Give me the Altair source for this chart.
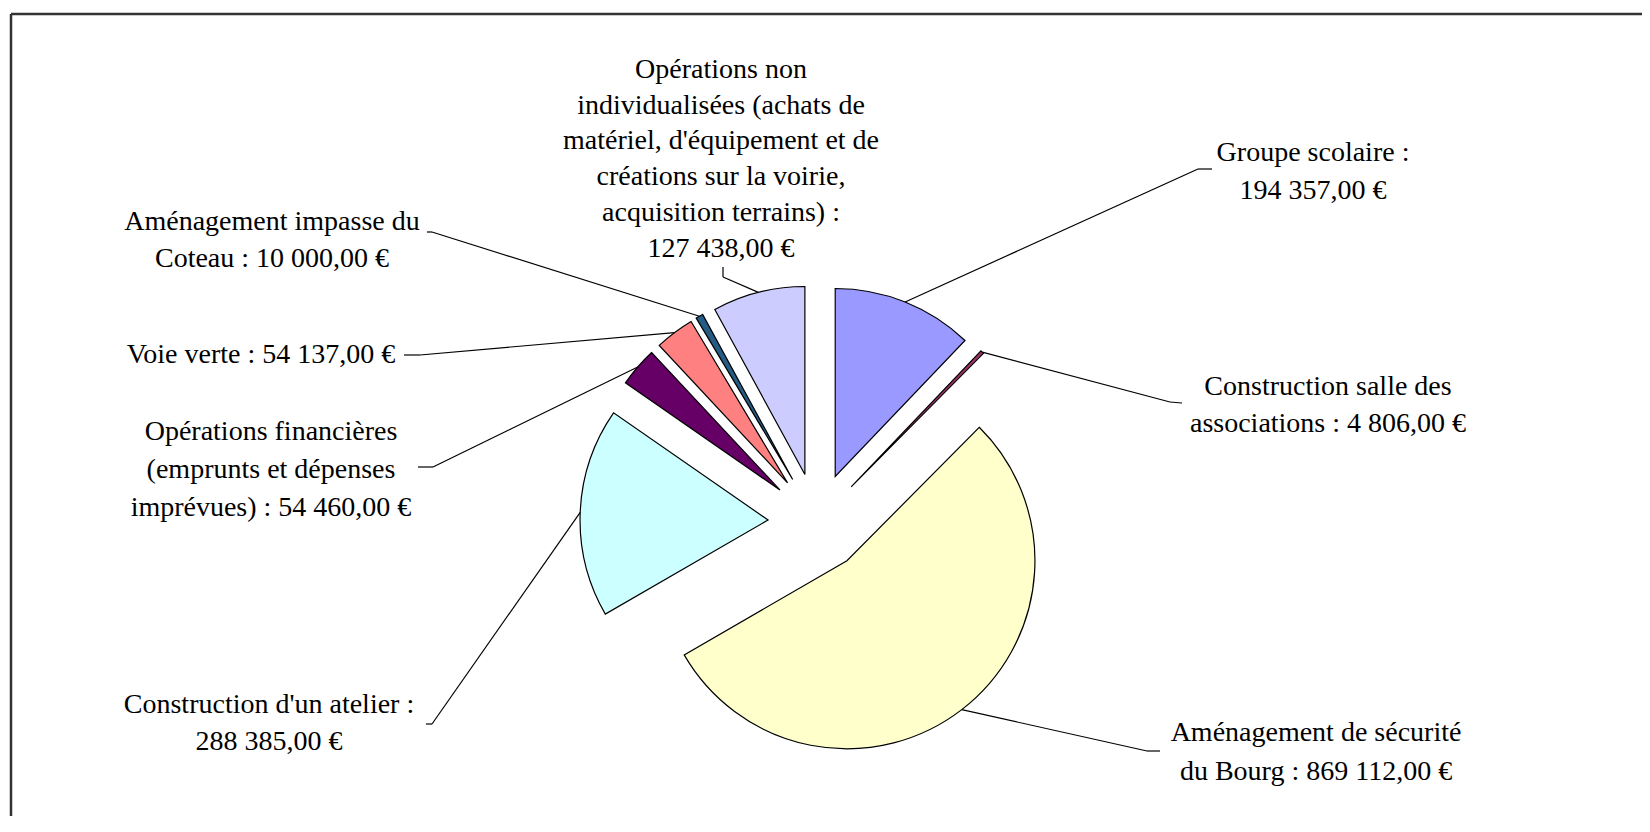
import altair as alt
import pandas as pd

# ---------------- data ----------------
categories = [
    "Groupe scolaire",
    "Construction salle des associations",
    "Aménagement de sécurité du Bourg",
    "Construction d'un atelier",
    "Opérations financières",
    "Voie verte",
    "Aménagement impasse du Coteau",
    "Opérations non individualisées",
]
values = [194357, 4806, 869112, 288385, 54460, 54137, 10000, 127438]
colors = ["#9999FF", "#993366", "#FFFFCC", "#CCFFFF", "#660066", "#FF8080", "#245C85", "#CCCCFF"]
label_lines = [
    ["Groupe scolaire :", "{v}"],
    ["Construction salle des", "associations : {v}"],
    ["Aménagement de sécurité", "du Bourg : {v}"],
    ["Construction d'un atelier :", "{v}"],
    ["Opérations financières", "(emprunts et dépenses", "imprévues) : {v}"],
    ["Voie verte : {v}"],
    ["Aménagement impasse du", "Coteau : {v}"],
    ["Opérations non", "individualisées (achats de", "matériel, d'équipement et de",
     "créations sur la voirie,", "acquisition terrains) :", "{v}"],
]


def fmt(v):
    return f"{v:,}".replace(",", " ") + ",00 €"


# ---------------- layout (page pixel coordinates) ----------------
PAGE = 8
W, H = 1634, 808
CX, CY, EXPLODE, R = 817, 522, 49, 188
FONT = "Liberation Serif"
FS = 28
label_pos = [(1313, 153, 38), (1328, 387, 37), (1316, 733, 38.5), (269, 705, 37),
             (271, 432, 38), (261, 355, 0), (272, 222, 36.5), (721, 70, 35.7)]
leader_elbow = [(1198, 169), (1170, 402), (1147, 751), (432, 724),
                (433, 467), (420, 355), (432, 232), (723, 277)]
leader_end = [(1212, 169), (1182, 403), (1160, 751), (426, 724),
              (418, 467), (404, 355), (427, 232), (723, 267)]

df = pd.DataFrame({
    "category": categories,
    "value": values,
    "order": list(range(len(categories))),
    "ex": [p[0] - PAGE for p in leader_elbow],
    "ey": [p[1] - PAGE for p in leader_elbow],
    "tx": [p[0] - PAGE for p in leader_end],
    "ty": [p[1] - PAGE for p in leader_end],
})

rows = []
for lines, v, (lx, ly, lh) in zip(label_lines, values, label_pos):
    for i, line in enumerate(lines):
        rows.append({"text": line.replace("{v}", fmt(v)), "x": lx - PAGE, "y": ly + i * lh - PAGE})
tdf = pd.DataFrame(rows)

base = (
    alt.Chart(df)
    .transform_joinaggregate(total="sum(value)")
    .transform_window(cum="sum(value)", sort=[alt.SortField("order", order="ascending")], frame=[None, 0])
    .transform_calculate(t0="2*PI*(datum.cum - datum.value)/datum.total")
    .transform_calculate(t1="2*PI*datum.cum/datum.total")
    .transform_calculate(mid="(datum.t0 + datum.t1)/2")
    .transform_calculate(cx=f"{CX - PAGE} + {EXPLODE}*sin(datum.mid)")
    .transform_calculate(cy=f"{CY - PAGE} - {EXPLODE}*cos(datum.mid)")
    .transform_calculate(lx=f"datum.cx + {R}*sin(datum.mid)")
    .transform_calculate(ly=f"datum.cy - {R}*cos(datum.mid)")
)

arcs = base.mark_arc(radius=R, stroke="black", strokeWidth=1.2).encode(
    x=alt.X("cx:Q", scale=None, axis=None),
    y=alt.Y("cy:Q", scale=None, axis=None),
    theta=alt.Theta("t0:Q", scale=None, stack=False),
    theta2="t1:Q",
    color=alt.Color("category:N", scale=alt.Scale(domain=categories, range=colors), legend=None),
)

lead1 = base.mark_rule(color="black", strokeWidth=1.2).encode(
    x=alt.X("lx:Q", scale=None, axis=None),
    y=alt.Y("ly:Q", scale=None, axis=None),
    x2="ex:Q",
    y2="ey:Q",
)
lead2 = alt.Chart(df).mark_rule(color="black", strokeWidth=1.2).encode(
    x=alt.X("ex:Q", scale=None, axis=None),
    y=alt.Y("ey:Q", scale=None, axis=None),
    x2="tx:Q",
    y2="ty:Q",
)

texts = alt.Chart(tdf).mark_text(font=FONT, fontSize=FS, align="center", baseline="middle", color="black").encode(
    x=alt.X("x:Q", scale=None, axis=None),
    y=alt.Y("y:Q", scale=None, axis=None),
    text="text:N",
)

frame_df = pd.DataFrame({
    "x": [11 - PAGE, 11 - PAGE],
    "y": [14 - PAGE, 14 - PAGE],
    "x2": [W, 11 - PAGE],
    "y2": [14 - PAGE, H],
})
frame = alt.Chart(frame_df).mark_rule(color="#333333", strokeWidth=2.5).encode(
    x=alt.X("x:Q", scale=None, axis=None),
    y=alt.Y("y:Q", scale=None, axis=None),
    x2="x2:Q",
    y2="y2:Q",
)

chart = (
    alt.layer(frame, arcs, lead1, lead2, texts)
    .properties(width=W, height=H, padding=0, autosize=alt.AutoSizeParams(type="none"), background="white")
    .configure_view(stroke=None)
)

chart.save("out.html", embed_options={"renderer": "svg", "actions": False})
